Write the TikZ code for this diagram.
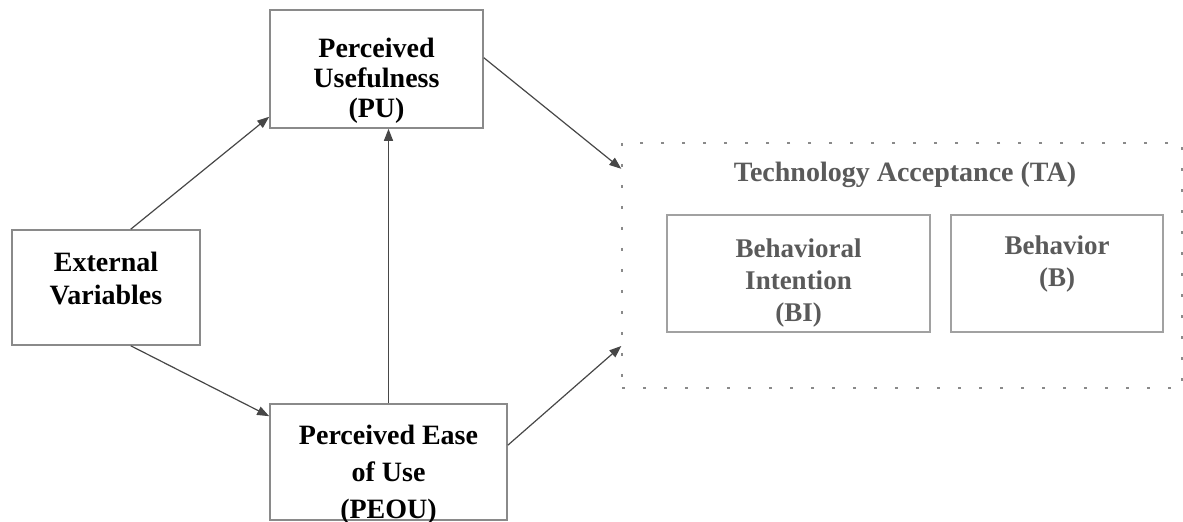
\documentclass[tikz,border=0pt]{standalone}
\usepackage{fontspec}
\setmainfont{Liberation Serif}
\usetikzlibrary{arrows.meta}
\definecolor{boxline}{HTML}{8A8A8A}
\definecolor{arrowline}{HTML}{474747}
\definecolor{tagray}{HTML}{5A5A5A}
\tikzset{
  varbox/.style={draw=boxline,line width=0.8pt,align=center,inner sep=2pt,
    font=\bfseries\fontsize{14}{15}\selectfont},
  tabox/.style={draw=boxline!80,line width=1pt,align=center,inner sep=2pt,
    text=tagray,font=\bfseries\fontsize{13.5}{16}\selectfont},
  link/.style={draw=arrowline,line width=0.6pt,-{Triangle[length=6pt,width=4.5pt]}}
}
\begin{document}
\begin{tikzpicture}[x=0.5pt,y=-0.5pt]
  \useasboundingbox (0,0) rectangle (1183,522);
  % Model constructs
  \node[varbox,minimum width=106.5pt,minimum height=59pt] (pu) at (376.5,69)
    {Perceived\\Usefulness\\(PU)\\[-24pt]};
  \node[varbox,minimum width=94pt,minimum height=57.5pt,
    font=\bfseries\fontsize{14}{16.5}\selectfont] (ev) at (106,287.5)
    {External\\Variables\\[-7.5pt]};
  \node[varbox,minimum width=118.5pt,minimum height=58pt,
    font=\bfseries\fontsize{14}{18.5}\selectfont] (peou) at (388.5,462)
    {Perceived Ease\\of Use\\(PEOU)\\[-28.5pt]};
  % Technology acceptance group
  \node[draw=boxline,line width=0.7pt,dash pattern=on 1.5pt off 9pt,
    minimum width=280pt,minimum height=122.5pt] (ta) at (902,265.5) {};
  \node[text=tagray,font=\bfseries\fontsize{14}{16}\selectfont] (talabel) at (905,175)
    {Technology Acceptance (TA)};
  \node[tabox,minimum width=131.5pt,minimum height=58.5pt] (bi) at (798.5,273.5)
    {Behavioral\\Intention\\(BI)\\[-23pt]};
  \node[tabox,minimum width=106pt,minimum height=58.5pt] (b) at (1057,273.5)
    {Behavior\\(B)\\[-4pt]};
  % Relations
  \draw[link] (ev.67.3) -- (pu.204.7);
  \draw[link] (ev.-67.3) -- (peou.159.2);
  \draw[link] (peou.north) -- (peou.north |- pu.south);
  \draw[link] (pu.6.4) -- (ta.161.5);
  \draw[link] (peou.8.2) -- (ta.196.4);
\end{tikzpicture}
\end{document}
